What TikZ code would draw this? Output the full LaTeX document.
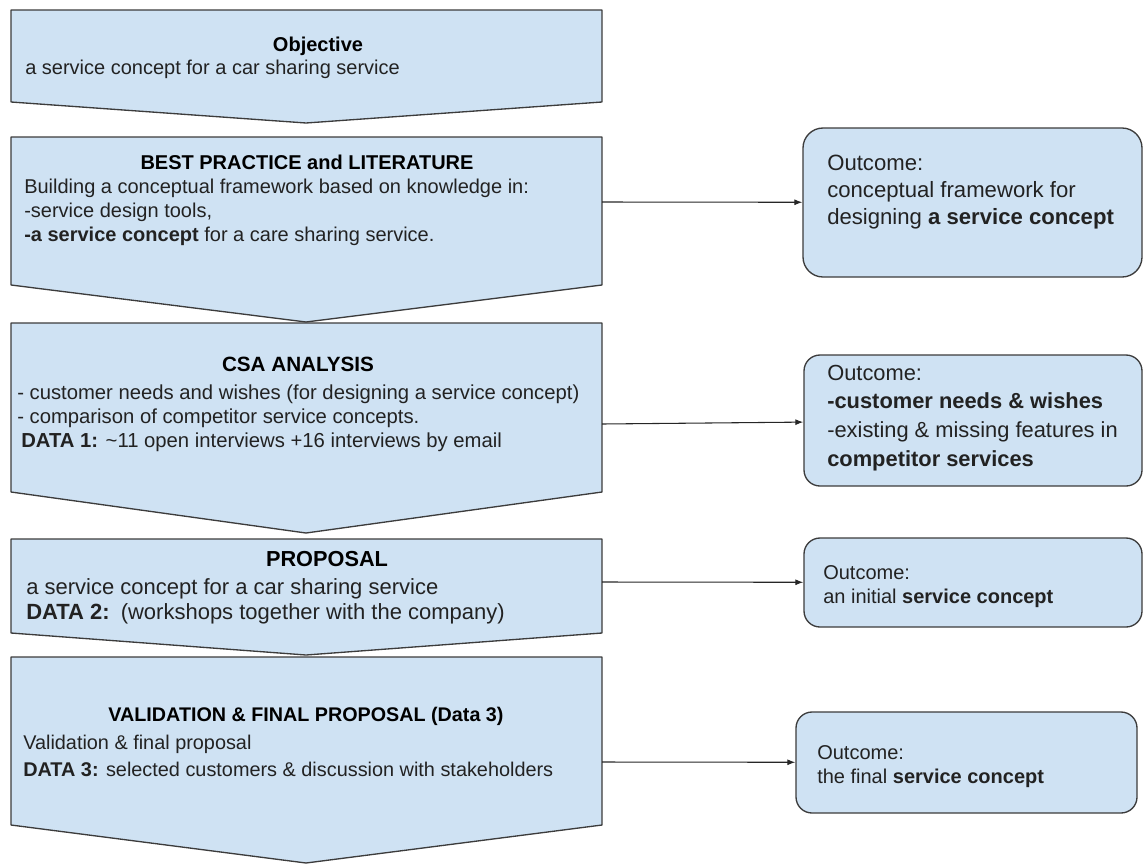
\documentclass[tikz,border=0pt]{standalone}
\usepackage{fontspec}
\setmainfont{Liberation Sans}
\usetikzlibrary{arrows.meta}
\definecolor{boxblue}{HTML}{CFE2F3}
\definecolor{edgegray}{HTML}{3C3C3C}
\definecolor{textgray}{HTML}{222222}
\tikzset{
  chev/.style={draw=edgegray,fill=boxblue,line width=1pt,line join=round},
  outbox/.style={draw=edgegray,fill=boxblue,line width=1pt,rounded corners=12pt,inner sep=0pt},
  head/.style={anchor=base,inner sep=0pt,text=black,font=\bfseries\fontsize{15}{18}\selectfont},
  body/.style={anchor=base west,align=left,inner sep=0pt,text=textgray},
  flow/.style={-{Latex[length=6pt,width=4.5pt]},line width=0.8pt,draw=black!85}
}
\begin{document}
\begin{tikzpicture}[x=0.75pt,y=-0.75pt]
\useasboundingbox (0,0) rectangle (1144,864);

\draw[chev] (11,10) -- (602,10) -- (602,102) -- (306,123) -- (11,102) -- cycle;
\draw[chev] (11,137) -- (602,137) -- (602,285) -- (306,322) -- (11,285) -- cycle;
\draw[chev] (11,323) -- (602,323) -- (602,492) -- (306,533) -- (11,492) -- cycle;
\draw[chev] (11,539) -- (602,539) -- (602,633) -- (306,655) -- (11,633) -- cycle;
\draw[chev] (11,657) -- (602,657) -- (602,825) -- (306,863) -- (11,825) -- cycle;

\node[head] (objhead) at (318,51) {Objective};
\node[body,font=\fontsize{15}{18}\selectfont] (objtxt) at (25,74) {a service concept for a car sharing service};

\node[head] (bphead) at (307,169) {BEST PRACTICE and LITERATURE};
\node[body,font=\fontsize{15}{18}\selectfont] (bptxt) at (24,241)
  {Building a conceptual framework based on knowledge in:\\-service design tools,\\\textbf{-a service concept} for a care sharing service.};

\node[head,font=\bfseries\fontsize{15.5}{18}\selectfont] (csahead) at (298,371) {CSA ANALYSIS};
\node[body,font=\fontsize{15.2}{18}\selectfont] (csatxt) at (17,447)
  {- customer needs and wishes (for designing a service concept)\\- comparison of competitor service concepts.\\\hspace*{3pt}\textbf{DATA 1:} \textasciitilde11 open interviews +16 interviews by email};

\node[head,font=\bfseries\fontsize{16.3}{18}\selectfont] (prophead) at (327,566) {PROPOSAL};
\node[body,font=\fontsize{16.5}{18.75}\selectfont] (proptxt) at (26,619)
  {a service concept for a car sharing service\\\textbf{DATA 2:}\enspace(workshops together with the company)};

\node[head,font=\bfseries\fontsize{14.8}{18}\selectfont] (valhead) at (306,721) {VALIDATION \& FINAL PROPOSAL (Data 3)};
\node[body,font=\fontsize{14.9}{20.25}\selectfont] (valtxt) at (23,776)
  {Validation \& final proposal\\\textbf{DATA 3:} selected customers \& discussion with stakeholders};

\coordinate (bpR) at (602,202);
\coordinate (csaR) at (602,424);
\coordinate (propR) at (602,582);
\coordinate (valR) at (602,762);

\node[outbox,rounded corners=15pt,minimum width=254.25pt,minimum height=111.75pt] (fwk) at (972.5,202.5) {};
\node[outbox,minimum width=253.5pt,minimum height=98.25pt] (needs) at (973,420.5) {};
\node[outbox,minimum width=253.5pt,minimum height=66.75pt] (initial) at (973,582.5) {};
\node[outbox,minimum width=255.75pt,minimum height=75.75pt] (final) at (966.5,762.5) {};

\node[body,font=\fontsize{16.6}{19.9}\selectfont] (fwktxt) at (827,224)
  {Outcome:\\conceptual framework for\\designing \textbf{a service concept}};
\node[body,font=\fontsize{16.4}{21.4}\selectfont] (needstxt) at (827,466)
  {Outcome:\\\textbf{-customer needs \& wishes}\\-existing \& missing features in\\\textbf{competitor services}};
\node[body,font=\fontsize{15}{18}\selectfont] (initialtxt) at (823,603)
  {Outcome:\\an initial \textbf{service concept}};
\node[body,font=\fontsize{15}{18}\selectfont] (finaltxt) at (817,783)
  {Outcome:\\the final \textbf{service concept}};

\draw[flow] (bpR) -- (fwk);
\draw[flow] (csaR) -- (needs);
\draw[flow] (propR) -- (initial);
\draw[flow] (valR) -- (final);
\end{tikzpicture}
\end{document}
